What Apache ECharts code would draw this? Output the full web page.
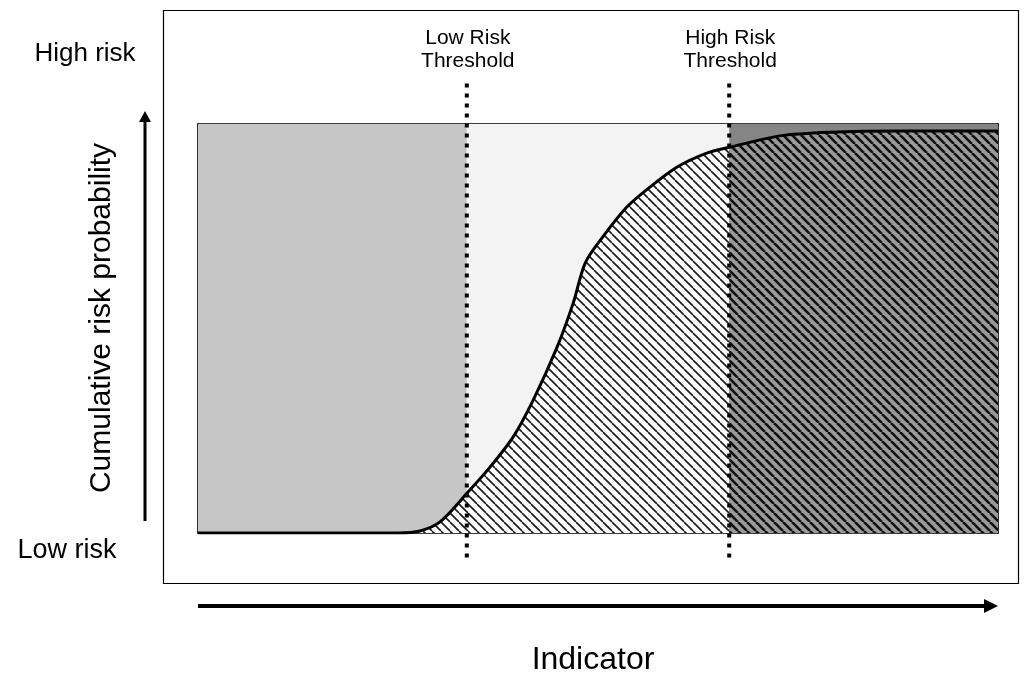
<!DOCTYPE html>
<html>
<head>
<meta charset="utf-8">
<script src="https://cdn.jsdelivr.net/npm/echarts@6/dist/echarts.min.js"></script>
<style>
html,body{margin:0;padding:0;background:#fff;}
#chart{width:1032px;height:678px;}
</style>
</head>
<body>
<div id="chart"></div>
<script>
// ---- data (indicator 0..100, cumulative risk probability 0..100) ----
const curveX = [0, 25, 27.75, 30.25, 33.75, 36.5, 39.4, 41.9, 44.9, 46.9, 48.4, 50.6, 53.6, 56.5, 59.9, 63.6, 66.4, 72.75, 79, 87.75, 98.6, 100];
const curveY = [0, 0, 0.5, 2.7, 10, 16.1, 23.5, 32.5, 45.5, 56.2, 66, 72.4, 79.7, 84.6, 89.5, 92.9, 94.3, 97.1, 98, 98.3, 98.3, 98.3];
const thresholdNames = ['Low Risk\nThreshold', 'High Risk\nThreshold'];
const thresholdX = [33.6, 66.4];
const thresholdSpan = [-6, 110];
const xRange = [0, 100];
const yRange = [0, 100];
const yTopLabel = 'High risk';
const yBottomLabel = 'Low risk';
const yAxisTitle = 'Cumulative risk probability';
const xAxisTitle = 'Indicator';

const FONT = '"Liberation Sans", Arial, sans-serif';

function hatch(bg, lineColor, lineW, s) {
  const c = document.createElement('canvas');
  c.width = s; c.height = s;
  const g = c.getContext('2d');
  if (bg) { g.fillStyle = bg; g.fillRect(0, 0, s, s); }
  g.strokeStyle = lineColor; g.lineWidth = lineW;
  for (const o of [-s, 0, s]) {
    g.beginPath(); g.moveTo(o, 0); g.lineTo(o + s, s); g.stroke();
  }
  return c;
}

const curve = curveX.map((x, i) => [x, curveY[i]]);
const lowPart = curve.filter(p => p[0] <= thresholdX[1]);
const highPart = curve.filter(p => p[0] >= thresholdX[1]);
const SMOOTH = 0.3;

const chart = echarts.init(document.getElementById('chart'), null, {renderer: 'canvas'});

const hiddenAxis = (pos, type) => ({
  type: 'value', min: type === 'x' ? xRange[0] : yRange[0], max: type === 'x' ? xRange[1] : yRange[1],
  position: pos,
  axisLine: {show: true, onZero: false, lineStyle: {color: '#000', width: 1.6}},
  axisTick: {show: false}, axisLabel: {show: false}, splitLine: {show: false}
});

const option = {
  animation: false,
  backgroundColor: '#fff',
  grid: {left: 198, right: 34, top: 124, bottom: 145},
  xAxis: [hiddenAxis('bottom', 'x'), hiddenAxis('top', 'x')],
  yAxis: [hiddenAxis('left', 'y'), hiddenAxis('right', 'y')],
  series: [
    {
      type: 'line', data: lowPart, smooth: SMOOTH, symbol: 'none',
      lineStyle: {width: 0, opacity: 0}, z: 2,
      areaStyle: {color: {image: hatch('#ffffff', '#1a1a1a', 1.6, 9), repeat: 'repeat'}, opacity: 1},
      markArea: {
        silent: true, z: 1,
        data: [
          [{xAxis: xRange[0], itemStyle: {color: '#c6c6c6'}}, {xAxis: thresholdX[0]}],
          [{xAxis: thresholdX[0], itemStyle: {color: '#f3f3f3'}}, {xAxis: thresholdX[1]}],
          [{xAxis: thresholdX[1], itemStyle: {color: '#858585'}}, {xAxis: xRange[1]}]
        ]
      }
    },
    {
      type: 'line', data: highPart, smooth: SMOOTH, symbol: 'none',
      lineStyle: {width: 0, opacity: 0}, z: 2,
      areaStyle: {color: {image: hatch('#9a9a9a', '#111111', 2.6, 9), repeat: 'repeat'}, opacity: 1}
    },
    {
      type: 'line', data: curve, smooth: SMOOTH, symbol: 'none', z: 4,
      lineStyle: {color: '#000', width: 3}
    },
    ...thresholdX.map(tx => ({
      type: 'line', data: [[tx, thresholdSpan[0]], [tx, thresholdSpan[1]]], symbol: 'none', clip: false, z: 6,
      lineStyle: {color: '#000', width: 4, type: [4, 6], cap: 'butt'}
    }))
  ]
};
chart.setOption(option);

// annotations positioned through the chart's scales
const gr = [];
thresholdX.forEach((tx, i) => {
  const p = chart.convertToPixel({xAxisIndex: 0, yAxisIndex: 0}, [tx, thresholdSpan[1]]);
  gr.push({type: 'text', x: p[0] + 1, y: p[1] - 10, z: 10,
    style: {text: thresholdNames[i], font: '21px ' + FONT, fill: '#000', align: 'center', verticalAlign: 'bottom', lineHeight: 23}});
});
const pTop = chart.convertToPixel({xAxisIndex: 0, yAxisIndex: 0}, [xRange[0], yRange[1]]);
const pBot = chart.convertToPixel({xAxisIndex: 0, yAxisIndex: 0}, [xRange[0], yRange[0]]);
const pRight = chart.convertToPixel({xAxisIndex: 0, yAxisIndex: 0}, [xRange[1], yRange[0]]);
const frame = {l: pTop[0] - 35, t: pTop[1] - 114, r: pRight[0] + 20, b: pBot[1] + 50};
gr.push({type: 'rect', shape: {x: frame.l + 0.5, y: frame.t + 0.5, width: frame.r - frame.l, height: frame.b - frame.t},
  style: {fill: 'none', stroke: '#000', lineWidth: 1.2}, z: 0});
// vertical arrow
const ax = 145;
gr.push({type: 'line', shape: {x1: ax, y1: pBot[1] - 12, x2: ax, y2: pTop[1] - 4}, style: {stroke: '#000', lineWidth: 3}, z: 10});
gr.push({type: 'polygon', shape: {points: [[ax - 6, pTop[1] - 2], [ax + 6, pTop[1] - 2], [ax, pTop[1] - 13]]}, style: {fill: '#000'}, z: 10});
// horizontal arrow
const ay = 606;
gr.push({type: 'line', shape: {x1: pBot[0], y1: ay, x2: pRight[0] - 12, y2: ay}, style: {stroke: '#000', lineWidth: 4}, z: 10});
gr.push({type: 'polygon', shape: {points: [[pRight[0] - 14, ay - 7], [pRight[0] - 14, ay + 7], [pRight[0], ay]]}, style: {fill: '#000'}, z: 10});
// texts
gr.push({type: 'text', x: 85, y: 54, style: {text: yTopLabel, font: '26px ' + FONT, fill: '#000', align: 'center', verticalAlign: 'middle'}, z: 10});
gr.push({type: 'text', x: 67, y: 551, style: {text: yBottomLabel, font: '27px ' + FONT, fill: '#000', align: 'center', verticalAlign: 'middle'}, z: 10});
gr.push({type: 'text', x: 102, y: 318, rotation: Math.PI / 2, style: {text: yAxisTitle, font: '30px ' + FONT, fill: '#000', align: 'center', verticalAlign: 'middle'}, z: 10});
gr.push({type: 'text', x: 593, y: 660, style: {text: xAxisTitle, font: '32px ' + FONT, fill: '#000', align: 'center', verticalAlign: 'middle'}, z: 10});
chart.setOption({graphic: gr});
</script>
</body>
</html>
